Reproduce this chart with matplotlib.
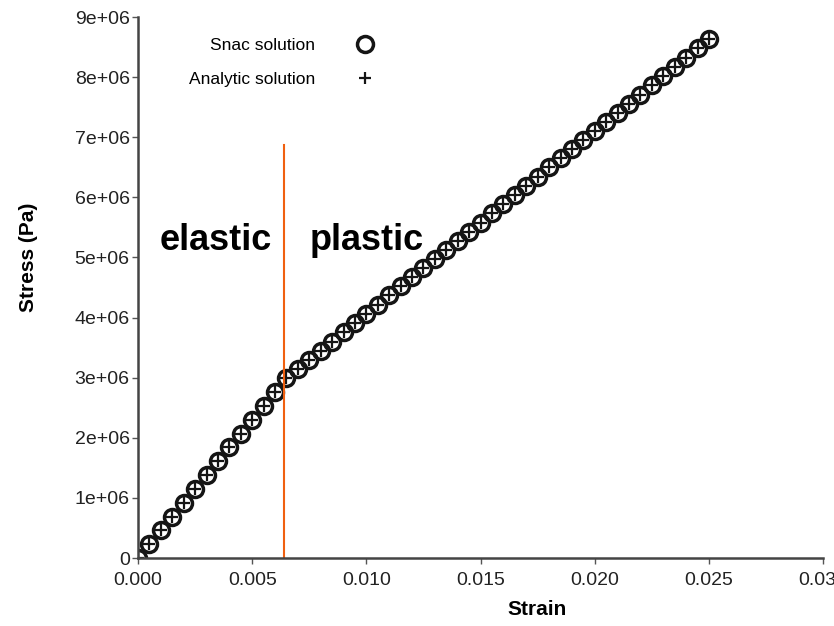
import matplotlib.pyplot as plt

plt.rcParams['font.family'] = ['Liberation Sans', 'DejaVu Sans']

strain = [0.0000, 0.0005, 0.0010, 0.0015, 0.0020, 0.0025, 0.0030, 0.0035, 0.0040,
          0.0045, 0.0050, 0.0055, 0.0060, 0.0065, 0.0070, 0.0075, 0.0080, 0.0085,
          0.0090, 0.0095, 0.0100, 0.0105, 0.0110, 0.0115, 0.0120, 0.0125, 0.0130,
          0.0135, 0.0140, 0.0145, 0.0150, 0.0155, 0.0160, 0.0165, 0.0170, 0.0175,
          0.0180, 0.0185, 0.0190, 0.0195, 0.0200, 0.0205, 0.0210, 0.0215, 0.0220,
          0.0225, 0.0230, 0.0235, 0.0240, 0.0245, 0.0250]

# stress in Pa (elastic then plastic branch)
stress = [0.00e6, 0.23e6, 0.46e6, 0.69e6, 0.92e6, 1.15e6, 1.38e6, 1.61e6, 1.84e6,
          2.07e6, 2.30e6, 2.53e6, 2.76e6, 2.99e6, 3.15e6, 3.30e6, 3.45e6, 3.60e6,
          3.76e6, 3.91e6, 4.06e6, 4.21e6, 4.37e6, 4.52e6, 4.67e6, 4.82e6, 4.97e6,
          5.13e6, 5.28e6, 5.43e6, 5.58e6, 5.74e6, 5.89e6, 6.04e6, 6.19e6, 6.34e6,
          6.50e6, 6.65e6, 6.80e6, 6.95e6, 7.11e6, 7.26e6, 7.41e6, 7.56e6, 7.71e6,
          7.87e6, 8.02e6, 8.17e6, 8.32e6, 8.48e6, 8.63e6]

yield_strain = 0.0064
yield_line_top = 6.87e6

xticks = [0.000, 0.005, 0.010, 0.015, 0.020, 0.025, 0.030]
xticklabels = ['0.000', '0.005', '0.010', '0.015', '0.020', '0.025', '0.030']
yticks = [0, 1e6, 2e6, 3e6, 4e6, 5e6, 6e6, 7e6, 8e6, 9e6]
yticklabels = ['0', '1e+06', '2e+06', '3e+06', '4e+06', '5e+06', '6e+06',
               '7e+06', '8e+06', '9e+06']


def make_plot():
    fig = plt.figure(figsize=(8.34, 6.26), dpi=100)
    ax = fig.add_axes([0.1655, 0.1086, 0.8215, 0.8642])

    ax.plot(strain, stress, linestyle='none', marker='o', markersize=11.5,
            markerfacecolor='none', markeredgecolor='#151515',
            markeredgewidth=2.5, label='Snac solution')
    ax.plot(strain, stress, linestyle='none', marker='+', markersize=8,
            color='#151515', markeredgewidth=1.6, label='Analytic solution')

    ax.plot([yield_strain, yield_strain], [0, yield_line_top],
            color='#f06010', linewidth=1.5)

    ax.text(0.00096, 5.29e6, 'elastic', fontsize=26, fontweight='bold',
            ha='left', va='center')
    ax.text(0.00753, 5.29e6, 'plastic', fontsize=26, fontweight='bold',
            ha='left', va='center')

    ax.set_xlim(0, 0.03)
    ax.set_ylim(0, 9e6)
    ax.set_xticks(xticks)
    ax.set_xticklabels(xticklabels)
    ax.set_yticks(yticks)
    ax.set_yticklabels(yticklabels)
    ax.tick_params(labelsize=14, length=4, width=1, color='#555555',
                   labelcolor='#222222', direction='out', pad=2)
    ax.tick_params(axis='x', pad=6)

    for s in ['top', 'right']:
        ax.spines[s].set_visible(False)
    for s in ['left', 'bottom']:
        ax.spines[s].set_linewidth(1.8)
        ax.spines[s].set_color('#444444')

    ax.set_xlabel('Strain', fontsize=15, fontweight='bold')
    ax.set_ylabel('Stress (Pa)', fontsize=15, fontweight='bold')
    ax.xaxis.set_label_coords(0.582, -0.078)
    ax.yaxis.set_label_coords(-0.146, 0.555)

    ax.legend(loc='upper right', bbox_to_anchor=(0.38, 0.99), frameon=False,
              markerfirst=False, fontsize=12.5, handletextpad=1.9,
              labelspacing=1.05)

    fig.savefig('out.png', dpi=100)


if __name__ == '__main__':
    make_plot()
